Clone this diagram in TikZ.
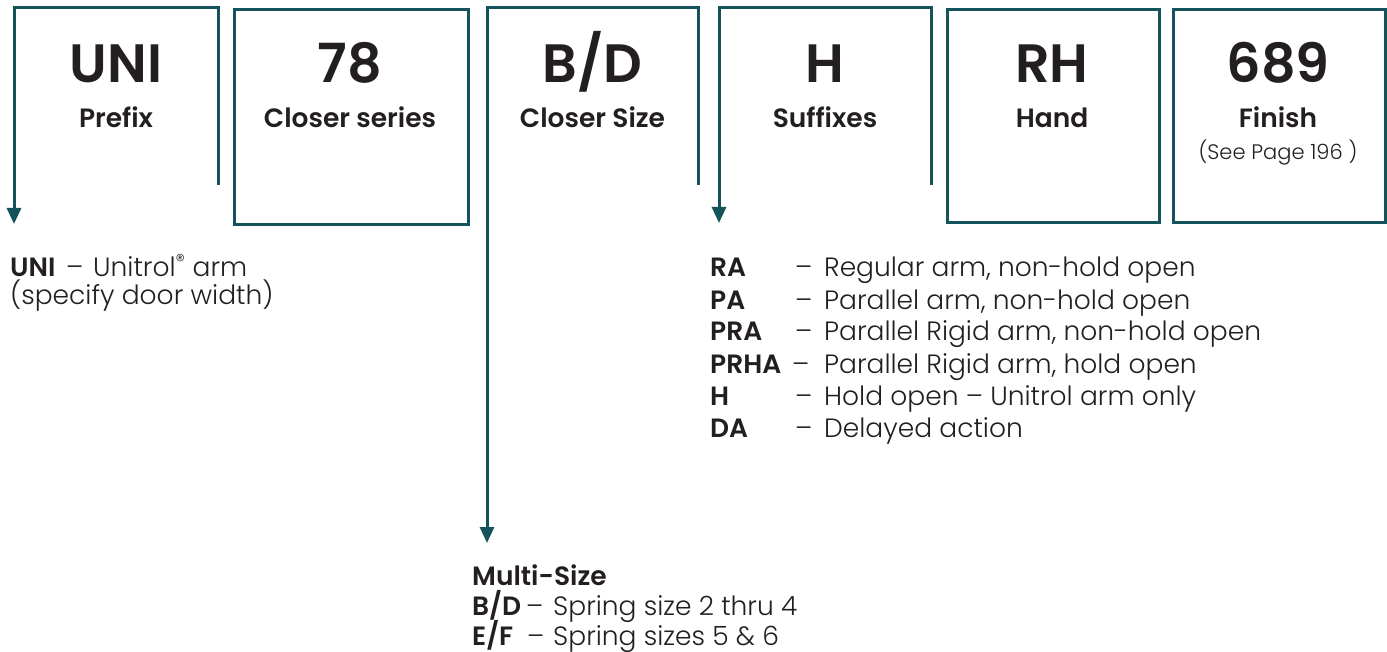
\documentclass[tikz,border=0pt]{standalone}
\usepackage{fontspec}
\setmainfont{Poppins}[UprightFont=* Light, BoldFont=* SemiBold]
\usetikzlibrary{arrows.meta}
\definecolor{boxteal}{HTML}{14535B}
\definecolor{ink}{HTML}{231F20}
\begin{document}
\begin{tikzpicture}[x=1pt,y=-1pt,
  box/.style={draw=boxteal, line width=3pt, inner sep=0, anchor=north west},
  frame/.style={draw=boxteal, line width=3pt, line join=miter},
  arr/.style={frame, -{Triangle[width=14pt,length=16pt]}},
  big/.style={font=\fontsize{54}{54}\selectfont\bfseries, text=ink, anchor=base, inner sep=0},
  sub/.style={font=\fontsize{26.5}{26.5}\selectfont\bfseries, text=ink, anchor=base, inner sep=0},
  note/.style={font=\fontsize{21}{21}\selectfont, text=ink, anchor=base, inner sep=0},
  desc/.style={font=\fontsize{26.5}{26.5}\selectfont, text=ink, anchor=base west, inner sep=0},
  abbr/.style={font=\fontsize{26.5}{26.5}\selectfont\bfseries, text=ink, anchor=base west, inner sep=0},
]
\useasboundingbox (0,0) rectangle (1387,652);

% closed boxes
\node[box, minimum width=234pt, minimum height=215pt] (series) at (233,8) {};
\node[box, minimum width=212pt, minimum height=213pt] (hand) at (946,8) {};
\node[box, minimum width=212pt, minimum height=213pt] (finish) at (1172,8) {};

% open boxes with arrows
\coordinate (pfxA) at (218,185);
\coordinate (pfxB) at (218,8);
\coordinate (pfxC) at (14,8);
\coordinate (pfxD) at (14,224);
\draw[arr] (pfxA) -- (pfxB) -- (pfxC) -- (pfxD);

\coordinate (sizeA) at (698,185);
\coordinate (sizeB) at (698,8);
\coordinate (sizeC) at (487,8);
\coordinate (sizeD) at (487,543);
\draw[arr] (sizeA) -- (sizeB) -- (sizeC) -- (sizeD);

\coordinate (sufA) at (931,185);
\coordinate (sufB) at (931,8);
\coordinate (sufC) at (719,8);
\coordinate (sufD) at (719,223);
\draw[arr] (sufA) -- (sufB) -- (sufC) -- (sufD);

% box labels
\node[big] (tUNI) at (116,83) {UNI};
\node[sub] (lUNI) at (116,128) {Prefix};
\node[big] (t78) at (350,83) {78};
\node[sub] (l78) at (350,128) {Closer series};
\node[big] (tBD) at (592.5,83) {B/D};
\node[sub] (lBD) at (592.5,128) {Closer Size};
\node[big] (tH) at (825,83) {H};
\node[sub] (lH) at (825,128) {Suffixes};
\node[big] (tRH) at (1052,83) {RH};
\node[sub] (lRH) at (1052,128) {Hand};
\node[big] (t689) at (1278,83) {689};
\node[sub] (l689) at (1278,128) {Finish};
\node[note] (n689) at (1278,160) {(See Page 196 )};

% prefix description
\node[abbr] (aUNI) at (10,277) {UNI};
\node[desc] (xUNI) at (66,277) {–};
\node[desc] (dUNI1) at (93,277) {Unitrol\textsuperscript{\textregistered} arm};
\node[desc] (dUNI2) at (10,305) {(specify door width)};

% suffix list
\node[abbr] (aRA) at (710,277) {RA};
\node[desc] (xRA) at (795,277) {–};
\node[desc] (dRA) at (824,277) {Regular arm, non-hold open};
\node[abbr] (aPA) at (710,309) {PA};
\node[desc] (xPA) at (795,309) {–};
\node[desc] (dPA) at (824,309) {Parallel arm, non-hold open};
\node[abbr] (aPRA) at (710,341) {PRA};
\node[desc] (xPRA) at (795,341) {–};
\node[desc] (dPRA) at (824,341) {Parallel Rigid arm, non-hold open};
\node[abbr] (aPRHA) at (710,373) {PRHA};
\node[desc] (xPRHA) at (792,373) {–};
\node[desc] (dPRHA) at (824,373) {Parallel Rigid arm, hold open};
\node[abbr] (aH) at (710,405) {H};
\node[desc] (xH) at (795,405) {–};
\node[desc] (dH) at (824,405) {Hold open – Unitrol arm only};
\node[abbr] (aDA) at (710,437) {DA};
\node[desc] (xDA) at (795,437) {–};
\node[desc] (dDA) at (824,437) {Delayed action};

% size description
\node[abbr] (mHead) at (472,585) {Multi-Size};
\node[abbr] (aBD) at (472,615) {B/D};
\node[desc] (xBD) at (526,615) {–};
\node[desc] (mBD) at (553,615) {Spring size 2 thru 4};
\node[abbr] (aEF) at (472,645) {E/F};
\node[desc] (xEF) at (527,645) {–};
\node[desc] (mEF) at (553,645) {Spring sizes 5 \& 6};
\end{tikzpicture}
\end{document}
